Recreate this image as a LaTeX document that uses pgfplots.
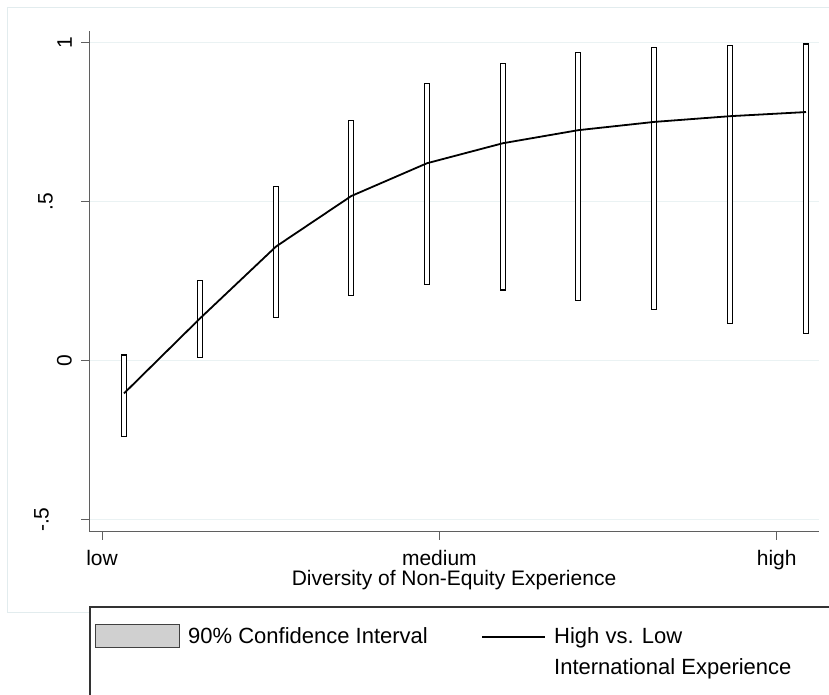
\documentclass[border=0pt]{standalone}
\usepackage{pgfplots}
\pgfplotsset{compat=1.18}
\usepackage{pgfplotstable}
\usepackage{fontspec}
\setmainfont{Liberation Sans}
\definecolor{gridc}{RGB}{234,242,243}
\definecolor{framec}{RGB}{226,236,238}
\definecolor{axc}{RGB}{95,95,95}
\definecolor{swatch}{RGB}{208,208,208}
\newcommand\fs{\fontsize{21}{25}\selectfont}
\newcommand\fl{\fontsize{22}{26}\selectfont}

\pgfplotstableread{
x      lo      hi     mid
0.0326 -0.238  0.018  -0.103
0.1453  0.009  0.252   0.133
0.2579  0.135  0.548   0.359
0.3696  0.206  0.755   0.518
0.4817  0.239  0.871   0.621
0.5943  0.222  0.935   0.684
0.7059  0.189  0.969   0.725
0.8186  0.162  0.984   0.751
0.9308  0.118  0.991   0.769
1.0434  0.086  0.996   0.782
}\datatable

\begin{document}
\begin{tikzpicture}[x=1pt,y=1pt]
\useasboundingbox (0,0) rectangle (829,695);
\clip (0,0) rectangle (829,695);
\draw[framec, line width=1pt] (7,687) rectangle (840,82);
\pgfplotsset{common/.style={scale only axis, width=730pt, height=501pt,
  at={(89pt,163pt)}, anchor=south west,
  xmin=-0.0193, xmax=1.0627, ymin=-0.539, ymax=1.037}}
\begin{axis}[common, ybar stacked, stack negative=on previous, bar width=5pt,
  axis x line*=bottom, axis y line*=left,
  axis line style={-, axc, line width=1pt},
  tick style={axc, line width=1pt}, major tick length=8pt, tick align=outside,
  xtick={0,0.5,1}, xticklabels={low,medium,high},
  ytick={-0.5,0,0.5,1}, yticklabels={},
  ymajorgrids, grid style={gridc, line width=1.3pt},
  tick label style={font=\fs},
  xticklabel style={inner sep=0pt, anchor=north, yshift=-9.7pt},
  xlabel={Diversity of Non-Equity Experience},
  xlabel style={font=\fs, inner sep=0pt, at={(axis description cs:0.5,0)}, anchor=north, yshift=-38pt},
  minor tick num=0, clip=false]
\addplot[draw=none, fill=none] table[x=x, y=lo] {\datatable};
\addplot[draw=black, fill=white, line width=1.2pt] table[x=x, y expr=\thisrow{hi}-\thisrow{lo}] {\datatable};
\node[rotate=90, anchor=south, inner sep=0pt, font=\fs] at ([xshift=-17pt]axis cs:-0.0193,1) {1};
\node[rotate=90, anchor=south, inner sep=0pt, font=\fs] at ([xshift=-36pt]axis cs:-0.0193,0.5) {.5};
\node[rotate=90, anchor=south, inner sep=0pt, font=\fs] at ([xshift=-17pt]axis cs:-0.0193,0) {0};
\node[rotate=90, anchor=south, inner sep=0pt, font=\fs] at ([xshift=-40pt]axis cs:-0.0193,-0.5) {-.5};
\end{axis}
\begin{axis}[common, hide axis]
\addplot[black, line width=1.8pt, mark=none, sharp plot] table[x=x, y=mid] {\datatable};
\end{axis}
% legend
\draw[black!80, line width=1.2pt, fill=white] (90,88) rectangle (850,-20);
\draw[black!75, line width=1pt, fill=swatch] (95.7,70) rectangle (179.3,47.3);
\node[font=\fl, inner sep=0pt, anchor=base west] at (188,51.7) {90\% Confidence Interval};
\draw[black, line width=1.8pt] (482,58.3) -- (545,58.3);
\node[font=\fl, inner sep=0pt, anchor=base west] at (554,51.7) {High vs. Low};
\node[font=\fl, inner sep=0pt, anchor=base west] at (554,20.7) {International Experience};
\end{tikzpicture}
\end{document}
